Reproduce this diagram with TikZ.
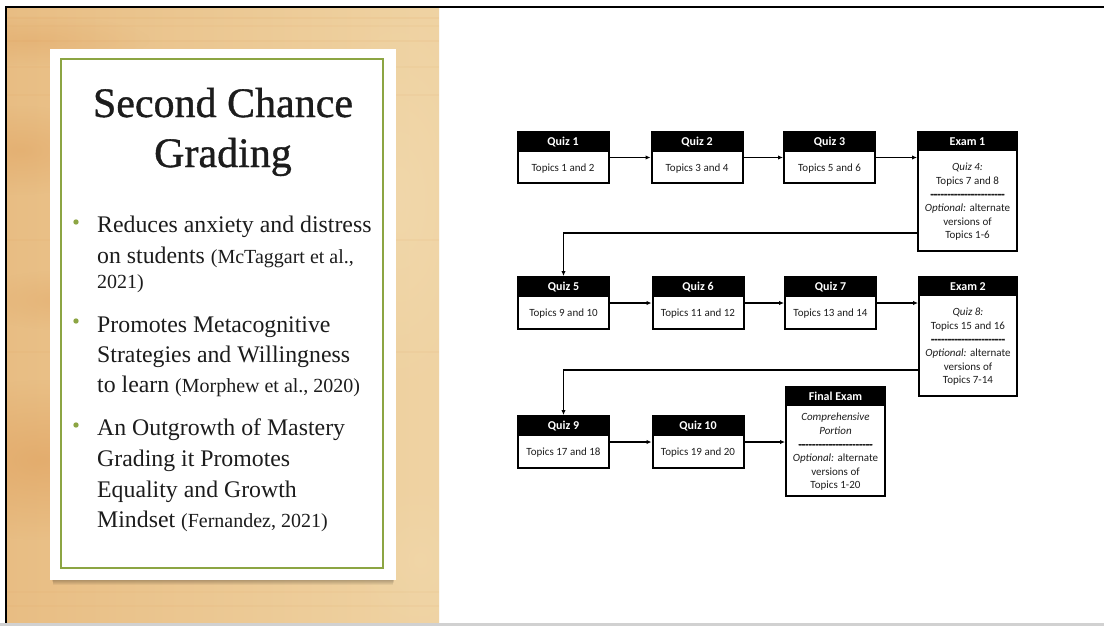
\documentclass[tikz,border=0pt]{standalone}
\usepackage{fontspec}
\setmainfont{Liberation Serif}
\newfontfamily\titlefont[FakeBold=0.9]{Liberation Serif}
\newfontfamily\boxfont{Carlito}
\newfontfamily\rulefont[FakeBold=2]{Carlito}
\usetikzlibrary{arrows.meta,calc,fadings}

\definecolor{woodL}{HTML}{E8BD83}
\definecolor{woodR}{HTML}{EFD3A3}
\definecolor{woodO}{HTML}{DF9E5A}
\definecolor{woodP}{HTML}{F3DDB3}
\definecolor{leaf}{HTML}{8CA543}
\definecolor{ink}{HTML}{1C1C1C}
\definecolor{boxink}{HTML}{1E1E1E}

% soft-edged blob for the grain of the wood
\tikzfading[name=blob, inner color=transparent!0, outer color=transparent!100]

% one hyphen that never joins its neighbour into a dash ligature
\newcommand\hy{-\kern0pt}
\newcommand\hyfour{\hy\hy\hy\hy}
\newcommand\dashrow{{\rulefont\bfseries\hyfour\hyfour\hyfour\hyfour\hyfour\hy\hy}}

% a stage of the course: black title strip over a white body
% #1 name, #2 centre, #3 width, #4 height, #5 strip height, #6 title, #7 body
\newcommand\stagebox[7]{%
  \node[stage, minimum width=#3, minimum height=#4] (#1) at #2 {};
  \node[stagehead, minimum width=#3, minimum height=#5] (#1h) at (#1.north) {#6};
  \node[stagebody] (#1b) at ($(#1h.south)!0.5!(#1.south)$) {#7};
}

\tikzset{
  stage/.style={draw=black, line width=2pt, fill=white, inner sep=0pt},
  stagehead/.style={fill=black, text=white, inner sep=0pt, anchor=north,
    font=\boxfont\bfseries\fontsize{12}{14}\selectfont},
  stagebody/.style={inner sep=0pt, align=center, text=boxink,
    font=\boxfont\fontsize{11}{13.6}\selectfont},
  flow/.style={line width=1.2pt, -{Latex[length=5pt,width=4.5pt]}},
  titletext/.style={anchor=base, text=ink, font=\titlefont\fontsize{42}{50}\selectfont},
  pointtext/.style={anchor=base west, text=ink, inner sep=0pt,
    font=\fontsize{23.8}{28}\selectfont},
  dot/.style={fill=leaf},
}
\newcommand\srcnote[1]{{\fontsize{20}{24}\selectfont #1}}

\begin{document}
\begin{tikzpicture}[x=1pt,y=-1pt]
\useasboundingbox (0,0) rectangle (1104,627);
\fill[white] (0,0) rectangle (1104,627);

% wooden panel
\begin{scope}
\clip (7,8) rectangle (439,623);
\shade[left color=woodL, right color=woodR] (7,8) rectangle (439,623);
\fill[woodO, opacity=0.55, path fading=blob] (40,460) ellipse (150pt and 80pt);
\fill[woodO, opacity=0.40, path fading=blob] (20,150) ellipse (90pt and 45pt);
\fill[woodO, opacity=0.30, path fading=blob] (30,40) ellipse (120pt and 25pt);
\fill[woodO, opacity=0.30, path fading=blob] (60,300) ellipse (90pt and 30pt);
\fill[woodP, opacity=0.50, path fading=blob] (400,200) ellipse (90pt and 200pt);
\fill[woodP, opacity=0.30, path fading=blob] (420,560) ellipse (70pt and 80pt);
\foreach \yy/\op in {18/0.10,26/0.07,41/0.10,67/0.07,95/0.08,240/0.08,352/0.08,592/0.07,606/0.08}
  \draw[woodO, opacity=\op, line width=1.2pt] (7,\yy) -- (439,\yy);
\end{scope}

% frame of the slide
\draw[line width=2pt, black] (6,624) -- (6,7) -- (1104,7);
\fill[black!18] (0,623) rectangle (1104,626);

% card with soft shadow
\foreach \s in {1,...,7}
  \fill[black, opacity=0.05] (51+\s*0.3,56) rectangle (395-\s*0.3,578+\s);
\fill[white] (50,49) rectangle (396,580);
\draw[leaf, line width=1.6pt] (61,59) rectangle (383,568);

\node[titletext] (title1) at (223,117) {Second Chance};
\node[titletext] (title2) at (223,167) {Grading};

\fill[dot] (76,222) circle (2.7pt);
\fill[dot] (76,321) circle (2.7pt);
\fill[dot] (76,425) circle (2.7pt);

\node[pointtext] (p1a) at (97,232) {Reduces anxiety and distress};
\node[pointtext] (p1b) at (97,263) {on students \srcnote{(McTaggart et al.,}};
\node[pointtext] (p1c) at (97,288) {\srcnote{2021)}};
\node[pointtext] (p2a) at (97,332) {Promotes Metacognitive};
\node[pointtext] (p2b) at (97,362) {Strategies and Willingness};
\node[pointtext] (p2c) at (97,392) {to learn \srcnote{(Morphew et al., 2020)}};
\node[pointtext] (p3a) at (97,435) {An Outgrowth of Mastery};
\node[pointtext] (p3b) at (97,466) {Grading it Promotes};
\node[pointtext] (p3c) at (97,497) {Equality and Growth};
\node[pointtext] (p3d) at (97,527) {Mindset \srcnote{(Fernandez, 2021)}};

% first block
\stagebox{q1}{(563,157.5)}{91pt}{51pt}{21pt}{Quiz 1}{Topics 1 and 2}
\stagebox{q2}{(697,157.5)}{91pt}{51pt}{21pt}{Quiz 2}{Topics 3 and 4}
\stagebox{q3}{(829.5,157.5)}{91pt}{51pt}{21pt}{Quiz 3}{Topics 5 and 6}
\stagebox{e1}{(967.5,191.5)}{99pt}{119pt}{20pt}{Exam 1}
  {\textit{Quiz 4:}\\Topics 7 and 8\\\dashrow\\\textit{Optional:} alternate\\versions of\\Topics 1-6}

% second block
\stagebox{q5}{(563.5,303)}{91pt}{52pt}{21pt}{Quiz 5}{Topics 9 and 10}
\stagebox{q6}{(698,303)}{91pt}{52pt}{21pt}{Quiz 6}{Topics 11 and 12}
\stagebox{q7}{(830.5,303)}{91pt}{52pt}{21pt}{Quiz 7}{Topics 13 and 14}
\stagebox{e2}{(968,336.5)}{98pt}{119pt}{20pt}{Exam 2}
  {\textit{Quiz 8:}\\Topics 15 and 16\\\dashrow\\\textit{Optional:} alternate\\versions of\\Topics 7-14}

% third block
\stagebox{q9}{(563.5,442)}{91pt}{52pt}{21pt}{Quiz 9}{Topics 17 and 18}
\stagebox{q10}{(698,442)}{91pt}{52pt}{21pt}{Quiz 10}{Topics 19 and 20}
\stagebox{fe}{(835.5,441.5)}{99pt}{109pt}{20pt}{Final Exam}
  {\textit{Comprehensive}\\\textit{Portion}\\\dashrow\\\textit{Optional:} alternate\\versions of\\Topics 1-20}

% order of the stages
\draw[flow] (q1.east) -- (q2.west);
\draw[flow] (q2.east) -- (q3.west);
\draw[flow] (q3.east) -- (e1.west |- q3.east);
\draw[flow] ([yshift=19pt]e1.south west) -| (q5.north);
\draw[flow] (q5.east) -- (q6.west);
\draw[flow] (q6.east) -- (q7.west);
\draw[flow] (q7.east) -- (e2.west |- q7.east);
\draw[flow] ([yshift=27pt]e2.south west) -| (q9.north);
\draw[flow] (q9.east) -- (q10.west);
\draw[flow] (q10.east) -- (fe.west |- q10.east);
\end{tikzpicture}
\end{document}
